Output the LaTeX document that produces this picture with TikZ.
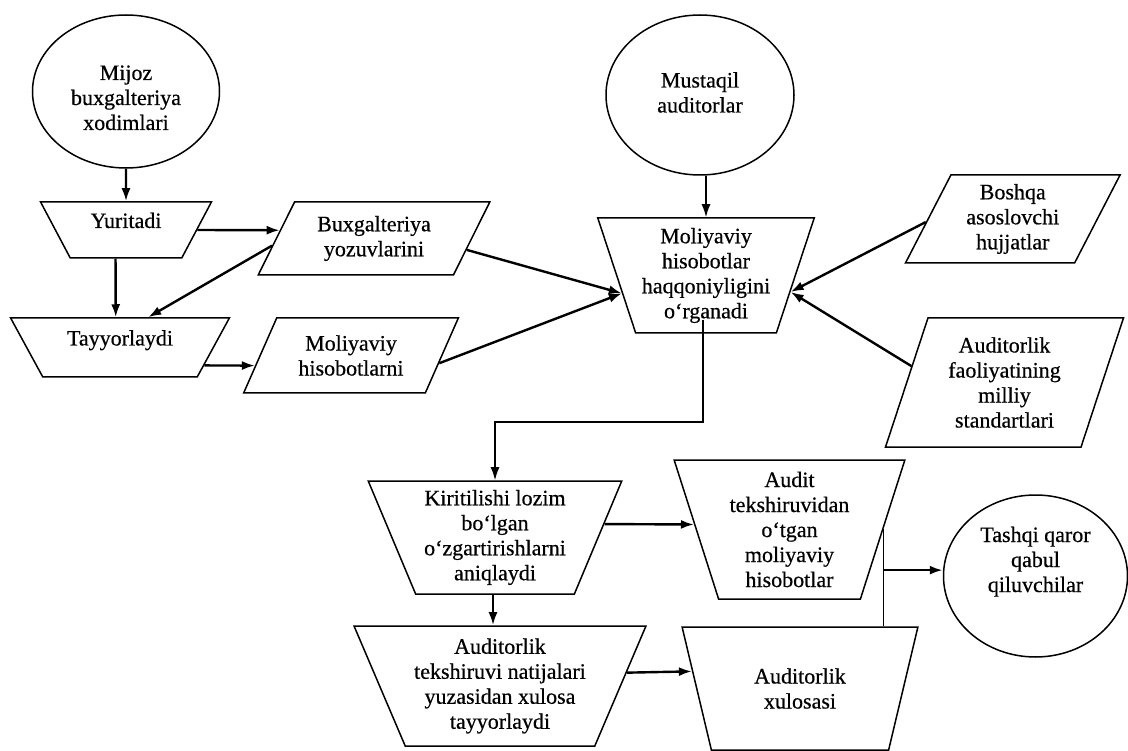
\documentclass[tikz,border=0pt]{standalone}
\usepackage{fontspec}
\setmainfont{Liberation Serif}[FakeBold=0.5]
\usepackage{tikz}
\usetikzlibrary{positioning, calc, shapes.geometric, arrows.meta}
\tikzstyle{Arrow} = [
line width=2.4pt,
-{Latex[length=13pt, width=9pt]}]
\tikzstyle{ThinArrow} = [Arrow, line width=1.5pt]
\tikzstyle{Line} = [line width=1.5pt]
\tikzstyle{Box} = [draw, line width=1.5pt, inner sep=0pt, align=center,
font=\fontsize{22}{25}\selectfont]
\tikzstyle{Trap} = [Box, trapezium, shape border rotate=180, trapezium stretches=true]
\tikzstyle{Para} = [Box, trapezium, trapezium stretches=true]
\tikzstyle{Oval} = [Box, ellipse]

\begin{document}
\begin{tikzpicture}[x=1pt, y=-1pt]
    \useasboundingbox (0,0) rectangle (1128,751);
    \node [Oval, minimum width=187pt, minimum height=153pt] (1) at (126,91.5)
        {\begin{tabular}{@{}c@{}}\\[-8pt]Mijoz\\buxgalteriya\\xodimlari\end{tabular}};
    \node [Trap, minimum width=171pt, minimum height=56pt, trapezium angle=61,
        text height=15pt, text depth=19pt] (2) at (126,230) {Yuritadi};
    \node [Trap, minimum width=219pt, minimum height=59pt, trapezium angle=57,
        text height=15pt, text depth=19pt] (3) at (120,347.5) {Tayyorlaydi};
    \node [Para, trapezium left angle=60, trapezium right angle=120,
        minimum width=232pt, minimum height=73pt] (4) at (374,238.5) {Buxgalteriya\\yozuvlarini};
    \node [Para, trapezium left angle=60, trapezium right angle=120,
        minimum width=215pt, minimum height=75pt] (5) at (351,355.5) {Moliyaviy\\hisobotlarni};
    \node [Trap, minimum width=217pt, minimum height=115pt, trapezium angle=70] (6) at (706,275.5)
        {Moliyaviy\\hisobotlar\\haqqoniyligini\\o‘rganadi};
    \node [Oval, minimum width=188pt, minimum height=160pt] (7) at (700,95)
        {\begin{tabular}{@{}c@{}}Mustaqil\\auditorlar\end{tabular}};
    \node [Para, trapezium left angle=64, trapezium right angle=116,
        minimum width=215pt, minimum height=88pt] (8) at (1012.75,219) {Boshqa\\asoslovchi\\hujjatlar};
    \node [Para, trapezium left angle=71, trapezium right angle=109,
        minimum width=238pt, minimum height=129pt] (9) at (1004.5,382.5)
        {Auditorlik\\faoliyatining\\milliy\\standartlari};
    \node [Trap, minimum width=254pt, minimum height=113pt, trapezium angle=66] (10) at (495,537.5)
        {Kiritilishi lozim\\bo‘lgan\\o‘zgartirishlarni\\aniqlaydi};
    \node [Trap, minimum width=293pt, minimum height=120pt, trapezium angle=64] (11) at (500,686)
        {Auditorlik\\tekshiruvi natijalari\\yuzasidan xulosa\\tayyorlaydi};
    \node [Trap, minimum width=231pt, minimum height=139pt, trapezium angle=72] (12) at (789.5,529.5)
        {Audit\\tekshiruvidan\\o‘tgan\\moliyaviy\\hisobotlar};
    \node [Trap, minimum width=236pt, minimum height=123pt, trapezium angle=69.5] (13) at (800,688.5)
        {Auditorlik\\xulosasi};
    \node [Oval, minimum width=184pt, minimum height=162pt] (14) at (1035.5,576)
        {\begin{tabular}{@{}c@{}}Tashqi qaror\\qabul\\qiluvchilar\\[28pt]\end{tabular}};
    \draw [Arrow] (1) to (2);
    \draw [Arrow] (2.250) to (3.98);
    \draw [Arrow] (2.0) to (4.175);
    \draw [Arrow] (4.184) to (3.47);
    \draw [Arrow] (3.348) to (5.186);
    \draw [Arrow] (4.353) to (6.192);
    \draw [Arrow] (5.355) to (6.192);
    \draw [ThinArrow] (6 |- 7.270) to (6.90);
    \coordinate (15) at ($(6)+(-3,44.5)$);
    \draw [ThinArrow] (15) -- ($(15)+(0,102)$) -| (10);
    \draw [Arrow] (8.182) to (6.349);
    \draw [Arrow] (9.170) to (6.349);
    \draw [Arrow] (10.7) to (12.177);
    \draw [Arrow] (10.268) to (10.268 |- 11.90);
    \draw [Arrow] (11.6) to (13.171);
    \draw [Line] (12.0) -- (12.0 |- 13.90);
    \coordinate (16) at ($(12.0)!0.42!(12.0 |- 13.90)$);
    \draw [Arrow] (16) to (16 -| 14.180);
\end{tikzpicture}
\end{document}
